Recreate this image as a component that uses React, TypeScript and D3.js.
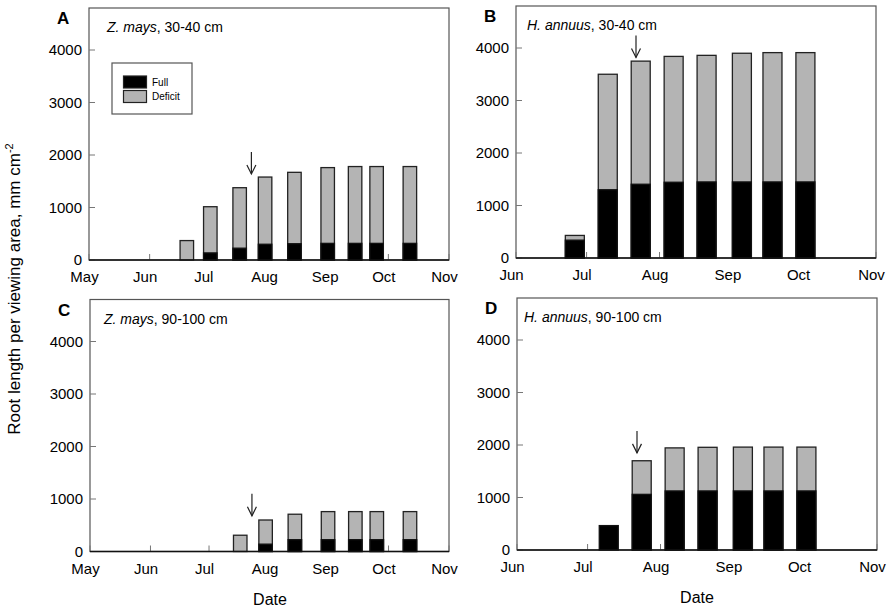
import React from 'react';
import * as d3 from 'd3';

// dates are month-day strings, year is arbitrary
const zmDates30 = ['06-20', '07-02', '07-17', '07-30', '08-14', '08-31', '09-14', '09-25', '10-12'];
const zmFull30 = [0, 135, 225, 300, 310, 317, 317, 317, 317];
const zmDeficit30 = [370, 1015, 1377, 1580, 1670, 1760, 1780, 1780, 1780];

const haDates30 = ['06-26', '07-10', '07-24', '08-07', '08-21', '09-05', '09-18', '10-02'];
const haFull30 = [340, 1300, 1405, 1443, 1449, 1449, 1449, 1449];
const haDeficit30 = [430, 3500, 3750, 3840, 3860, 3900, 3912, 3912];

const zmDates90 = ['07-17', '07-30', '08-14', '08-31', '09-14', '09-25', '10-12'];
const zmFull90 = [0, 140, 225, 225, 225, 225, 225];
const zmDeficit90 = [310, 600, 710, 760, 760, 760, 760];

const haDates90 = ['07-10', '07-24', '08-07', '08-21', '09-05', '09-18', '10-02'];
const haFull90 = [465, 1060, 1125, 1125, 1125, 1125, 1125];
const haDeficit90 = [0, 1700, 1945, 1956, 1960, 1960, 1960];

const yTicks = [0, 1000, 2000, 3000, 4000];
const legendLabels = ['Full', 'Deficit'];

const YEAR = 2005;
const toDate = (md: string) => {
  const [m, d] = md.split('-').map(Number);
  return new Date(YEAR, m - 1, d);
};

const GRAY = '#b4b4b4';
const FONT = 'Arial, "Liberation Sans", Helvetica, sans-serif';

interface PanelProps {
  letter: string;
  species: string;
  depth: string;
  dates: string[];
  full: number[];
  deficit: number[];
  arrow: [string, number];
  start: string;
  left: number;
  top: number;
  width: number;
  height: number;
  barW: number;
  titleDx: number;
  legend?: boolean;
}

const Panel: React.FC<PanelProps> = (p) => {
  const x = d3.scaleTime()
    .domain([toDate(p.start), toDate('11-01')])
    .range([p.left, p.left + p.width]);
  const y = d3.scaleLinear().domain([0, 4800]).range([p.top + p.height, p.top]);
  const months = x.ticks(d3.timeMonth.every(1)!);
  const fmt = d3.timeFormat('%b');
  const bottom = y(0);
  const ax = x(toDate(p.arrow[0]));
  const ay = y(p.arrow[1]);

  return (
    <g>
      <text x={p.left - 32} y={p.top + 16} fontSize={17} fontWeight="bold" fontFamily={FONT}>{p.letter}</text>
      <rect x={p.left} y={p.top} width={p.width} height={p.height} fill="none" stroke="#555" strokeWidth={1.2} />
      {yTicks.map((t) => (
        <g key={t}>
          <line x1={p.left} x2={p.left + 6} y1={y(t)} y2={y(t)} stroke="#777" strokeWidth={1} />
          <text x={p.left - 7} y={y(t)} dy="0.36em" textAnchor="end" fontSize={15} fontFamily={FONT}>{t}</text>
        </g>
      ))}
      {months.map((m, i) => (
        <g key={i}>
          <line x1={x(m)} x2={x(m)} y1={bottom} y2={bottom - 6} stroke="#777" strokeWidth={1} />
          <text x={x(m) - 4.5} y={bottom + 22} textAnchor="middle" fontSize={15} fontFamily={FONT}>{fmt(m)}</text>
        </g>
      ))}
      {p.dates.map((d, i) => {
        const cx = x(toDate(d));
        return (
          <g key={d}>
            {p.deficit[i] > 0 && (
              <rect x={cx - p.barW / 2} y={y(p.deficit[i])} width={p.barW} height={bottom - y(p.deficit[i])}
                fill={GRAY} stroke="#222" strokeWidth={1.3} />
            )}
            {p.full[i] > 0 && (
              <rect x={cx - p.barW / 2} y={y(p.full[i])} width={p.barW} height={bottom - y(p.full[i])}
                fill="#000" stroke="#111" strokeWidth={1.3} />
            )}
          </g>
        );
      })}
      <line x1={p.left} x2={p.left + p.width} y1={bottom} y2={bottom} stroke="#111" strokeWidth={1.6} />
      <text x={p.left + p.titleDx} y={p.top + 24} fontSize={14} fontFamily={FONT}>
        <tspan fontStyle="italic">{p.species}</tspan>, {p.depth}
      </text>
      <g fill="none" stroke="#222" strokeWidth={1.2}>
        <line x1={ax} x2={ax} y1={ay - 22} y2={ay} />
        <path d={`M${ax - 4.5},${ay - 9}L${ax},${ay}L${ax + 4.5},${ay - 9}`} />
      </g>
      {p.legend && (
        <g>
          <rect x={p.left + 23} y={p.top + 55} width={80} height={51} fill="#fff" stroke="#555" strokeWidth={1.2} />
          {legendLabels.map((l, i) => (
            <g key={l}>
              <rect x={p.left + 34.5} y={p.top + 68 + i * 14.5} width={23} height={12}
                fill={i === 0 ? '#000' : GRAY} stroke="#222" strokeWidth={1.2} />
              <text x={p.left + 63} y={p.top + 74 + i * 14.5} dy="0.36em" fontSize={10} fontFamily={FONT}>{l}</text>
            </g>
          ))}
        </g>
      )}
    </g>
  );
};

export default function App() {
  return (
    <svg width={892} height={612} style={{ position: 'fixed', left: 0, top: 0, background: '#fff' }}>
      <rect width={892} height={612} fill="#fff" />
      <Panel letter="A" species="Z. mays" depth="30-40 cm" dates={zmDates30} full={zmFull30} deficit={zmDeficit30}
        arrow={['07-23', 1640]} start="05-01" left={89} top={8} width={360} height={252} barW={13.5} titleDx={18} legend />
      <Panel letter="B" species="H. annuus" depth="30-40 cm" dates={haDates30} full={haFull30} deficit={haDeficit30}
        arrow={['07-22', 3820]} start="06-01" left={516} top={6} width={360} height={252} barW={19} titleDx={11} />
      <Panel letter="C" species="Z. mays" depth="90-100 cm" dates={zmDates90} full={zmFull90} deficit={zmDeficit90}
        arrow={['07-23', 680]} start="05-01" left={90} top={299.5} width={359} height={252} barW={13.5} titleDx={14} />
      <Panel letter="D" species="H. annuus" depth="90-100 cm" dates={haDates90} full={haFull90} deficit={haDeficit90}
        arrow={['07-22', 1850]} start="06-01" left={517} top={298} width={360} height={252} barW={19} titleDx={7} />
      <text transform="translate(20,289) rotate(-90)" textAnchor="middle" fontSize={17} fontFamily={FONT}>
        Root length per viewing area, mm cm<tspan dy={-7} fontSize={11}>-2</tspan>
      </text>
      <text x={270} y={605} textAnchor="middle" fontSize={16} fontFamily={FONT}>Date</text>
      <text x={697} y={603} textAnchor="middle" fontSize={16} fontFamily={FONT}>Date</text>
    </svg>
  );
}
